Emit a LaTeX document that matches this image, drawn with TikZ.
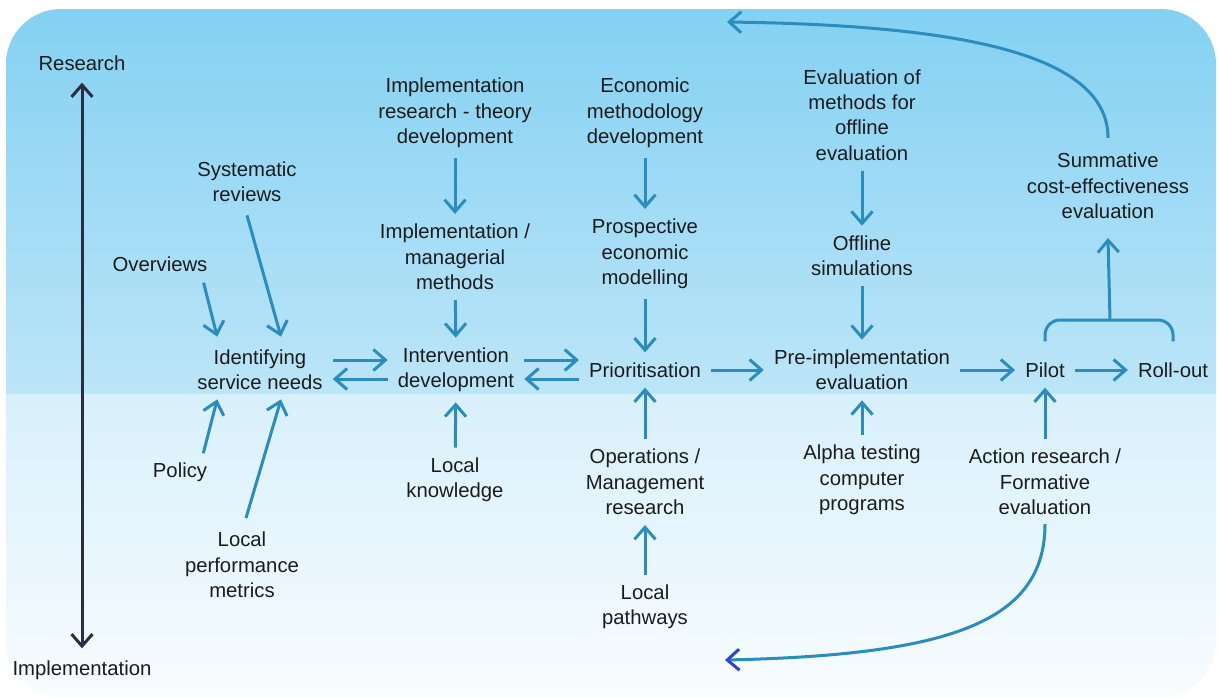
\documentclass[tikz,border=0pt]{standalone}
\usepackage{fontspec}
\setmainfont{Liberation Sans}
\usepackage{tikz}
\usetikzlibrary{arrows.meta,positioning}
\definecolor{bgtop}{HTML}{84D1F2}
\definecolor{bgmid}{HTML}{BCE5F8}
\definecolor{bglow}{HTML}{D8F0FB}
\definecolor{bgend}{HTML}{F8FCFF}
\definecolor{flowblue}{HTML}{2A8DBD}
\definecolor{tipblue}{HTML}{2B45D8}
\definecolor{axisnavy}{HTML}{2B2E43}
\definecolor{ink}{HTML}{1C1C1C}
\tikzset{>={Straight Barb[length=12pt,width=21pt]}}

\begin{document}
\begin{tikzpicture}[x=1pt,y=-1pt,
    lbl/.style={align=center, inner sep=3pt, text=ink, yshift=-2pt,
      font=\fontsize{20.3}{25.4}\selectfont},
    flow/.style={->, draw=flowblue, line width=3pt,
      shorten <=7pt, shorten >=7pt},
    link/.style={draw=flowblue, line width=3pt},
    axis/.style={<->, draw=axisnavy, line width=3pt,
      shorten <=9pt, shorten >=9pt}]

  \useasboundingbox (0,0) rectangle (1218,697);

  % Background
  \begin{scope}
    \clip[rounded corners=55pt] (6,9) rectangle (1216,697);
    \shade[top color=bgtop, bottom color=bgmid] (6,9) rectangle (1216,394);
    \shade[top color=bglow, bottom color=bgend] (6,394) rectangle (1216,697);
  \end{scope}

  % Axis
  \node[lbl] (res)  at (82,61)  {Research};
  \node[lbl] (impl) at (82,668) {Implementation};

  % Column 1
  \node[lbl] (sysrev) at (247,180) {Systematic\\reviews};
  \node[lbl] (overv)  at (160,262) {Overviews};
  \node[lbl] (idn)    at (260,368) {Identifying\\service needs};
  \node[lbl] (policy) at (180,470) {Policy};
  \node[lbl] (perf)   at (242,563) {Local\\performance\\metrics};

  % Column 2
  \node[lbl] (irtheory) at (455,111) {Implementation\\research - theory\\development};
  \node[lbl] (mgmt)     at (455,255) {Implementation /\\managerial\\methods};
  \node[lbl] (intdev)   at (456,368) {Intervention\\development};
  \node[lbl] (localk)   at (455,478) {Local\\knowledge};

  % Column 3
  \node[lbl] (econ)  at (645,111) {Economic\\methodology\\development};
  \node[lbl] (prosp) at (645,252) {Prospective\\economic\\modelling};
  \node[lbl] (prio)  at (645,368) {Prioritisation};
  \node[lbl] (ops)   at (645,480) {Operations /\\Management\\research};
  \node[lbl] (pathw) at (645,605) {Local\\pathways};

  % Column 4
  \node[lbl] (evalm)   at (862,113) {Evaluation of\\methods for\\offline\\evaluation};
  \node[lbl] (offsim)  at (862,254) {Offline\\simulations};
  \node[lbl] (preimpl) at (862,368) {Pre-implementation\\evaluation};
  \node[lbl] (alpha)   at (862,478) {Alpha testing\\computer\\programs};

  % Column 5
  \node[lbl] (pilot)   at (1045,368) {Pilot};
  \node[lbl] (rollout) at (1173,368) {Roll-out};
  \node[lbl] (action)  at (1045,480) {Action research /\\Formative\\evaluation};
  \node[lbl] (summ)    at (1108,184) {Summative\\cost-effectiveness\\evaluation};

  \coordinate (brtop)    at (1110,320);
  \coordinate (loopup)   at (727,22);
  \coordinate (loopdown) at (725,660);

  % Edges
  \draw[axis] (res) -- (impl);

  \draw[link, ->] ([xshift=-7pt,yshift=-8pt]overv.south east) -- ([xshift=23pt,yshift=10pt]idn.north west);
  \draw[link, ->] ([yshift=-10pt]sysrev.south) -- ([xshift=21pt,yshift=10pt]idn.north);
  \draw[link, ->] ([xshift=-7pt,yshift=6pt]policy.north east) -- ([xshift=23pt,yshift=-6pt]idn.south west);
  \draw[link, ->] ([xshift=4pt,yshift=11pt]perf.north) -- ([xshift=21pt,yshift=-6pt]idn.south);

  \draw[flow] ([yshift=10pt]idn.east) -- ([yshift=10pt]intdev.west);
  \draw[flow] ([yshift=-9pt]intdev.west) -- ([yshift=-9pt]idn.east);
  \draw[flow] ([yshift=10pt]intdev.east) -- ([yshift=10pt]prio.west);
  \draw[flow] ([yshift=-9pt]prio.west) -- ([yshift=-9pt]intdev.east);
  \draw[flow] (prio) -- (preimpl);
  \draw[flow] (preimpl) -- (pilot);
  \draw[flow] (pilot) -- (rollout);

  \draw[flow] (irtheory) -- (mgmt);
  \draw[flow] (mgmt) -- (intdev);
  \draw[flow] (localk) -- (intdev);
  \draw[flow] (econ) -- (prosp);
  \draw[flow] (prosp) -- (prio);
  \draw[flow] (ops) -- (prio);
  \draw[flow] (pathw) -- (ops);
  \draw[flow] (evalm) -- (offsim);
  \draw[flow] (offsim) -- (preimpl);
  \draw[flow] (alpha) -- (preimpl);
  \draw[flow] (action) -- (pilot);

  % Bracket
  \draw[link, rounded corners=15pt] ([yshift=18pt]pilot.north) |- (brtop) -| ([yshift=18pt]rollout.north);
  \draw[link, ->] (brtop) -- ([yshift=-16pt]summ.south);

  % Loops
  \draw[link, ->] ([yshift=12pt]summ.north) .. controls +(0,-87) and +(223,3) .. (loopup);
  \draw[link, -{Straight Barb[length=12pt,width=21pt,color=tipblue]}]
    ([yshift=-6pt]action.south) .. controls +(0,98) and +(225,-5) .. (loopdown);

\end{tikzpicture}
\end{document}
